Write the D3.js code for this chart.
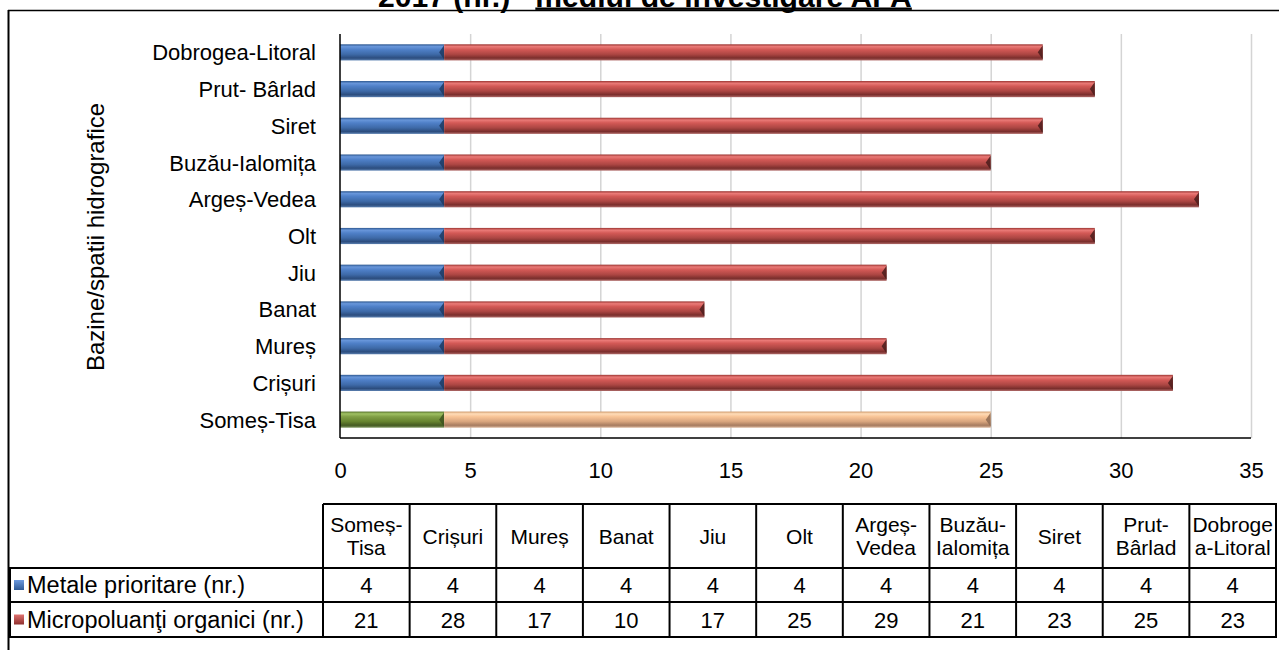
<!DOCTYPE html>
<html>
<head>
<meta charset="utf-8">
<script src="https://cdn.jsdelivr.net/npm/d3@7"></script>
<style>
  html, body { margin: 0; padding: 0; background: #fff; }
  svg { display: block; font-family: "Liberation Sans", Arial, sans-serif; }
</style>
</head>
<body>
<svg id="chart" width="1279" height="650"></svg>
<script>
// River basins, bottom to top as listed in the table
const categories = ["Someș-Tisa", "Crișuri", "Mureș", "Banat", "Jiu", "Olt",
  "Argeș-Vedea", "Buzău-Ialomița", "Siret", "Prut- Bârlad", "Dobrogea-Litoral"];
// Column headings of the data table, with their line breaks
const tableHeaders = [["Someș-", "Tisa"], ["Crișuri"], ["Mureș"], ["Banat"], ["Jiu"], ["Olt"],
  ["Argeș-", "Vedea"], ["Buzău-", "Ialomița"], ["Siret"], ["Prut-", "Bârlad"], ["Dobroge", "a-Litoral"]];
const metale = [4, 4, 4, 4, 4, 4, 4, 4, 4, 4, 4];
const micropoluanti = [21, 28, 17, 10, 17, 25, 29, 21, 23, 25, 23];
const seriesNames = ["Metale prioritare (nr.)", "Micropoluanţi organici (nr.)"];
const xTicks = [0, 5, 10, 15, 20, 25, 30, 35];
const axisTitle = "Bazine/spatii hidrografice";
const titlePlain = "2017 (nr.) – ";
const titleUnderlined = "mediul de investigare APA";

const svg = d3.select("#chart");
const plot = { left: 340, right: 1251, top: 34, bottom: 438 };

const x = d3.scaleLinear().domain([0, 35]).range([plot.left, plot.right]);
const y = d3.scaleBand()
  .domain(categories.slice().reverse())
  .range([plot.top, plot.bottom])
  .paddingInner(0.56).paddingOuter(0.28);

// Cylinder-like shading for the bars
const defs = svg.append("defs");
function shade(id, stops) {
  const g = defs.append("linearGradient").attr("id", id)
    .attr("x1", 0).attr("y1", 0).attr("x2", 0).attr("y2", 1);
  stops.forEach(([o, c]) => g.append("stop").attr("offset", o).attr("stop-color", c));
}
shade("gBlue",  [[0, "#2d578f"], [0.14, "#6896da"], [0.32, "#4f80c8"], [0.62, "#3e6aa8"], [0.85, "#2c4d7e"], [1, "#5a7fb0"]]);
shade("gRed",   [[0, "#9a3431"], [0.14, "#ea7a77"], [0.32, "#d35956"], [0.62, "#ac4643"], [0.85, "#7a2e2c"], [1, "#b06a68"]]);
shade("gGreen", [[0, "#56712a"], [0.14, "#a0c163"], [0.32, "#809f45"], [0.62, "#66832f"], [0.85, "#455b22"], [1, "#7f9660"]]);
shade("gTan",   [[0, "#cf9a6c"], [0.14, "#ffdcb8"], [0.32, "#f8c496"], [0.62, "#d8a57e"], [0.85, "#a77c60"], [1, "#d8b49a"]]);
shade("kBlue",  [[0, "#6d9be0"], [1, "#2f5a95"]]);
shade("kRed",   [[0, "#e07270"], [1, "#8e2f2d"]]);

// Outer frame
svg.append("line").attr("x1", 8.5).attr("x2", 8.5).attr("y1", 10).attr("y2", 650)
  .attr("stroke", "#000").attr("stroke-width", 2);
svg.append("line").attr("x1", 8).attr("x2", 1279).attr("y1", 10.5).attr("y2", 10.5)
  .attr("stroke", "#000").attr("stroke-width", 1.5);

// Title, only its lower part is inside the page
const titleLeft = 378, titleRight = 912;
const tPlain = svg.append("text").attr("x", titleLeft).attr("y", 7)
  .attr("font-size", 30).attr("font-weight", "bold").attr("fill", "#000").text(titlePlain);
const tU = svg.append("text").attr("y", 7)
  .attr("font-size", 30).attr("font-weight", "bold").attr("fill", "#000").text(titleUnderlined);
const k = (titleRight - titleLeft) /
  (tPlain.node().getComputedTextLength() + tU.node().getComputedTextLength());
tPlain.attr("font-size", 30 * k);
tU.attr("font-size", 30 * k);
const plainEnd = titleLeft + tPlain.node().getComputedTextLength();
tU.attr("x", plainEnd);
svg.append("rect").attr("x", plainEnd).attr("y", 7.5)
  .attr("width", tU.node().getComputedTextLength()).attr("height", 2.4).attr("fill", "#000");

// Vertical gridlines
svg.append("g")
  .attr("transform", `translate(0,${plot.bottom})`)
  .call(d3.axisBottom(x).tickValues(xTicks.slice(1)).tickSize(-(plot.bottom - plot.top)).tickFormat(""))
  .call(g => g.select(".domain").remove())
  .call(g => g.selectAll(".tick line").attr("stroke", "#d4d4d4").attr("stroke-width", 1.5));

// Tick labels
svg.append("g")
  .attr("transform", `translate(0,${plot.bottom})`)
  .call(d3.axisBottom(x).tickValues(xTicks).tickSize(0).tickPadding(0).tickFormat(d3.format("d")))
  .call(g => g.select(".domain").remove())
  .call(g => g.selectAll(".tick text")
    .attr("dy", null).attr("y", 40)
    .attr("font-size", 22).attr("font-family", "Liberation Sans, Arial, sans-serif").attr("fill", "#000"));

// Stacked bars
const rows = categories.map((c, i) => ({ c, i, a: metale[i], b: micropoluanti[i] }));
const barG = svg.append("g");
rows.forEach(r => {
  const y0 = y(r.c), h = y.bandwidth();
  const first = r.i === 0;
  const segs = [
    { from: 0, to: r.a, fill: first ? "url(#gGreen)" : "url(#gBlue)", cap: first ? "#3d511e" : "#1e3a62" },
    { from: r.a, to: r.a + r.b, fill: first ? "url(#gTan)" : "url(#gRed)", cap: first ? "#8d6a52" : "#4a1c1b" }
  ];
  segs.forEach(s => {
    const x0 = x(s.from), x1 = x(s.to);
    barG.append("rect").attr("x", x0).attr("y", y0).attr("width", x1 - x0).attr("height", h)
      .attr("fill", s.fill);
    // bevelled end of the segment
    barG.append("path")
      .attr("d", `M${x1 - 5},${y0 + h * 0.5} L${x1},${y0 + 1} L${x1},${y0 + h - 1} Z`)
      .attr("fill", s.cap).attr("opacity", 0.85);
  });
});

// Axis lines
svg.append("line").attr("x1", plot.left).attr("x2", plot.left).attr("y1", plot.top).attr("y2", plot.bottom)
  .attr("stroke", "#000").attr("stroke-width", 1.5);
svg.append("line").attr("x1", plot.left).attr("x2", plot.right).attr("y1", plot.bottom).attr("y2", plot.bottom)
  .attr("stroke", "#000").attr("stroke-width", 1.5);

// Category labels
svg.append("g").selectAll("text").data(categories).join("text")
  .attr("x", 316).attr("y", d => y(d) + y.bandwidth() / 2 + 8)
  .attr("text-anchor", "end").attr("font-size", 22).attr("fill", "#000")
  .text(d => d);

// Axis title
svg.append("text")
  .attr("transform", `translate(104,${237}) rotate(-90)`)
  .attr("text-anchor", "middle").attr("font-size", 24).attr("fill", "#000")
  .text(axisTitle);

// Data table
const tbl = { left: 10, colStart: 323, right: 1276, top: 504, head: 568, r1: 602, bottom: 637 };
const colW = (tbl.right - tbl.colStart) / categories.length;
const cx = i => tbl.colStart + colW * (i + 0.5);
const T = svg.append("g").attr("stroke", "#000").attr("stroke-width", 2).attr("fill", "none");
T.append("path").attr("d",
  `M${tbl.colStart},${tbl.top} H${tbl.right} V${tbl.bottom} H${tbl.left} V${tbl.head} H${tbl.right}` +
  ` M${tbl.left},${tbl.r1} H${tbl.right} M${tbl.colStart},${tbl.top} V${tbl.bottom}`);
d3.range(1, categories.length).forEach(i => {
  T.append("line").attr("x1", tbl.colStart + colW * i).attr("x2", tbl.colStart + colW * i)
    .attr("y1", tbl.top).attr("y2", tbl.bottom);
});

const tt = svg.append("g").attr("fill", "#000").attr("text-anchor", "middle");
tableHeaders.forEach((lines, i) => {
  const mid = (tbl.top + tbl.head) / 2;
  const start = mid - (lines.length - 1) * 11.5 + 7.5;
  lines.forEach((ln, j) => {
    tt.append("text").attr("x", cx(i)).attr("y", start + j * 23).attr("font-size", 21).text(ln);
  });
});
[metale, micropoluanti].forEach((vals, r) => {
  const yc = r === 0 ? (tbl.head + tbl.r1) / 2 : (tbl.r1 + tbl.bottom) / 2;
  vals.forEach((v, i) => {
    tt.append("text").attr("x", cx(i)).attr("y", yc + 8).attr("font-size", 22).text(v);
  });
});

// Legend keys and series names
seriesNames.forEach((name, r) => {
  const yc = r === 0 ? (tbl.head + tbl.r1) / 2 : (tbl.r1 + tbl.bottom) / 2;
  svg.append("rect").attr("x", 14).attr("y", yc - 5).attr("width", 10).attr("height", 10)
    .attr("fill", r === 0 ? "url(#kBlue)" : "url(#kRed)");
  svg.append("text").attr("x", 27).attr("y", yc + 8).attr("font-size", 23.5).attr("fill", "#000").text(name);
});
</script>
</body>
</html>
